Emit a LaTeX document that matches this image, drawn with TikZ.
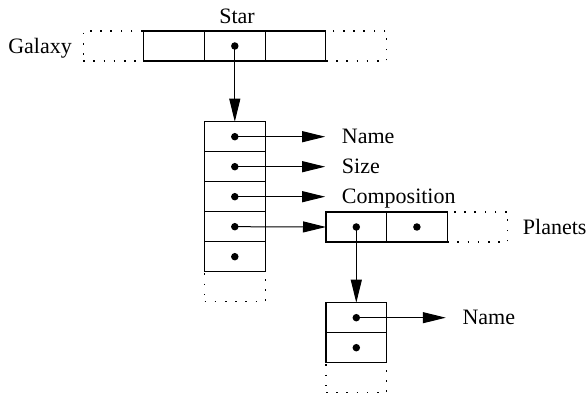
\documentclass[tikz,border=0pt]{standalone}
\usepackage{fontspec}
\setmainfont{Liberation Serif}
\usetikzlibrary{arrows.meta,calc}
\tikzset{
  cell/.style={draw, line width=1.1pt, minimum width=60.6pt, minimum height=30pt, inner sep=0pt, outer sep=0pt},
  ghost/.style={draw, line width=1.1pt, dash pattern=on 1.6pt off 8.6pt, minimum width=60.6pt, minimum height=30pt, inner sep=0pt, outer sep=0pt},
  dot/.style={circle, fill=black, inner sep=0pt, minimum size=7.5pt},
  lbl/.style={inner sep=0pt, font=\fontsize{22}{26}\selectfont},
  arr/.style={-{Triangle[length=23pt,width=11pt]}, line width=1pt},
}
\begin{document}
\begin{tikzpicture}[x=1pt,y=-1pt]
\useasboundingbox (0,0) rectangle (587,395);
% Galaxy / Star row
\node[ghost] (g1) at (113.4,46) {};
\node[ghost] (g2) at (356.2,46) {};
\node[cell] (s1) at (174,46) {};
\node[cell] (s2) at (234.8,46) {};
\node[cell] (s3) at (295.6,46) {};
\node[dot] (ds) at (s2.center) {};
\node[lbl, anchor=base east] (galaxy) at (72,53.5) {Galaxy};
\node[lbl, anchor=base] (star) at (237,23.5) {Star};
% column
\node[ghost] (cg) at (234.8,286.7) {};
\node[cell] (c1) at (234.8,136.7) {};
\node[cell] (c2) at (234.8,166.7) {};
\node[cell] (c3) at (234.8,196.7) {};
\node[cell] (c4) at (234.8,226.7) {};
\node[cell] (c5) at (234.8,256.7) {};
\foreach \i in {1,...,5} { \node[dot] (dc\i) at (c\i.center) {}; }
% planets row
\node[ghost] (pg) at (477.5,227) {};
\node[cell] (p1) at (356.3,227) {};
\node[cell] (p2) at (416.9,227) {};
\node[dot] (dp1) at (p1.center) {};
\node[dot] (dp2) at (p2.center) {};
\node[lbl, anchor=base west] (planets) at (522.7,234.3) {Planets};
% lower column
\node[ghost] (lg) at (356.3,377.7) {};
\node[cell] (l1) at (356.3,317.7) {};
\node[cell] (l2) at (356.3,347.7) {};
\node[dot] (dl1) at (l1.center) {};
\node[dot] (dl2) at (l2.center) {};
% labels
\node[lbl, anchor=base west] (name1) at (341.7,144) {Name};
\node[lbl, anchor=base west] (size) at (341.7,174) {Size};
\node[lbl, anchor=base west] (comp) at (341.7,204) {Composition};
\node[lbl, anchor=base west] (name2) at (462.3,325) {Name};
% arrows
\draw[arr] (ds.center) -- (c1.north);
\draw[arr, shorten >=16.5pt] (dc1.center) -- (dc1.center -| name1.west);
\draw[arr, shorten >=16.5pt] (dc2.center) -- (dc2.center -| size.west);
\draw[arr, shorten >=16.5pt] (dc3.center) -- (dc3.center -| comp.west);
\draw[arr] (dc4.center) -- (p1.west);
\draw[arr] (dp1.center) -- (l1.north);
\draw[arr, shorten >=16.5pt] (dl1.center) -- (dl1.center -| name2.west);
\end{tikzpicture}
\end{document}
